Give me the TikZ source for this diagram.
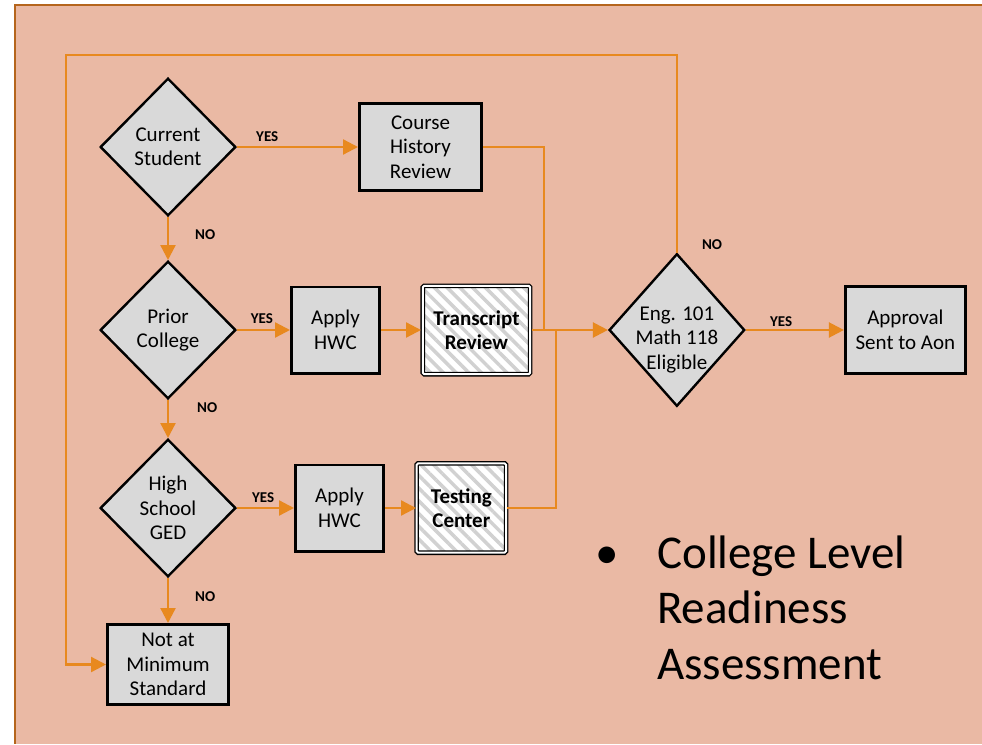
\documentclass[tikz,border=0pt]{standalone}
\usepackage{fontspec}
\setmainfont{Carlito}
\usetikzlibrary{positioning,shapes.geometric,arrows.meta,patterns.meta}
\definecolor{slidebg}{HTML}{EAB9A4}
\definecolor{flowline}{HTML}{E8891F}
\definecolor{framebrown}{HTML}{B5651C}
\definecolor{boxgray}{HTML}{D9D9D9}

\begin{document}
\begin{tikzpicture}[x=1pt, y=-1pt,
		decision/.style={diamond, draw=black, line width=2.4pt, fill=boxgray, inner sep=-4pt, minimum width=135.6pt, minimum height=137.6pt, align=center, font=\fontsize{21}{24.5}\selectfont},
		process/.style={rectangle, draw=black, line width=2.6pt, fill=boxgray, minimum width=121.4pt, minimum height=87.4pt, align=center, font=\fontsize{21}{24.5}\selectfont},
		hatched/.style={rectangle, draw=black, line width=1.3pt, double=white, double distance=2pt, rounded corners=1.5pt, preaction={fill=white}, pattern={Lines[angle=-45, distance=9pt, line width=3.5pt]}, pattern color=black!18, minimum width=107.4pt, minimum height=88.4pt, align=center, font=\fontsize{21}{24.5}\selectfont\bfseries},
		answer/.style={text=black, inner sep=1pt, font=\fontsize{15}{17}\selectfont\bfseries},
		flow/.style={draw=flowline, line width=2.3pt},
		bigtext/.style={align=left, inner sep=0pt, font=\fontsize{47}{55.5}\selectfont}
	]
	\useasboundingbox (0,0) rectangle (982,744);
	\fill[white] (0,0) rectangle (982,744);
	\fill[slidebg] (15,5) rectangle (982,744);
	\draw[framebrown, line width=2.2pt] (982,5) -- (15,5) -- (15,744);

	\node[decision] (current) at (168,147) {Current\\Student};
	\node[process, minimum width=122.4pt] (history) [right=121pt of current] {Course\\History\\Review};
	\node[decision] (prior) [below=43pt of current] {Prior\\College};
	\node[process, minimum width=88.4pt, minimum height=86.4pt] (apply1) [right=53pt of prior] {Apply\\HWC};
	\node[hatched] (transcript) [right=40pt of apply1] {Transcript\\Review};
	\node[decision] (hsged) [below=38pt of prior] {High\\School\\GED};
	\node[process, minimum width=88.4pt, minimum height=86.4pt] (apply2) [right=57pt of hsged] {Apply\\HWC};
	\node[hatched, minimum width=89.4pt, minimum height=89.4pt] (testing) [right=31pt of apply2] {Testing\\Center};
	\node[process, minimum height=80.4pt] (notmin) [below=45pt of hsged] {Not at\\Minimum\\Standard};
	\node[decision, minimum height=152.6pt] (eng) [right=76pt of transcript]
		{\raisebox{-15pt}[0pt][0pt]{\begin{tabular}{@{}c@{}}Eng. 101\\Math 118\\Eligible\end{tabular}}};
	\node[process, minimum width=120.4pt] (approval) [right=98pt of eng] {Approval\\Sent to Aon};
	\node[bigtext, anchor=base west] (readiness) at (657,679) {\llap{\textbullet\hspace{38pt}}College Level\\Readiness\\Assessment};

	\coordinate (mergeA) at ([xshift=12pt]transcript.east);
	\coordinate (mergeB) at ([xshift=24pt]transcript.east);
	\coordinate (looptop) at (66,55);

	\begin{scope}[flow, -{Triangle[length=15pt, width=15pt]}]
	\draw (current.east) -- node[answer, above=3pt, pos=0.25] {YES} (history.west);
	\draw (current.south) -- node[answer, right=25pt, pos=0.42] {NO} (prior.north);
	\draw (prior.east) -- node[answer, above=4pt, pos=0.47] {YES} (apply1.west);
	\draw (apply1.east) -- (transcript.west);
	\draw (prior.south) -- node[answer, right=27pt, pos=0.21] {NO} (hsged.north);
	\draw (hsged.east) -- node[answer, above=3pt, pos=0.46] {YES} (apply2.west);
	\draw (apply2.east) -- (testing.west);
	\draw (hsged.south) -- node[answer, right=25pt, pos=0.42] {NO} (notmin.north);
	\draw (transcript.east) -- (eng.west);
	\draw (eng.east) -- node[answer, above=1pt, pos=0.36] {YES} (approval.west);
	\draw (eng.north) |- node[answer, right=23pt, pos=0.02] {NO} (looptop) |- (notmin.west);
	\draw[-] (history.east) -| (mergeA);
	\draw[-] (testing.east) -| (mergeB);
	\end{scope}
\end{tikzpicture}
\end{document}
